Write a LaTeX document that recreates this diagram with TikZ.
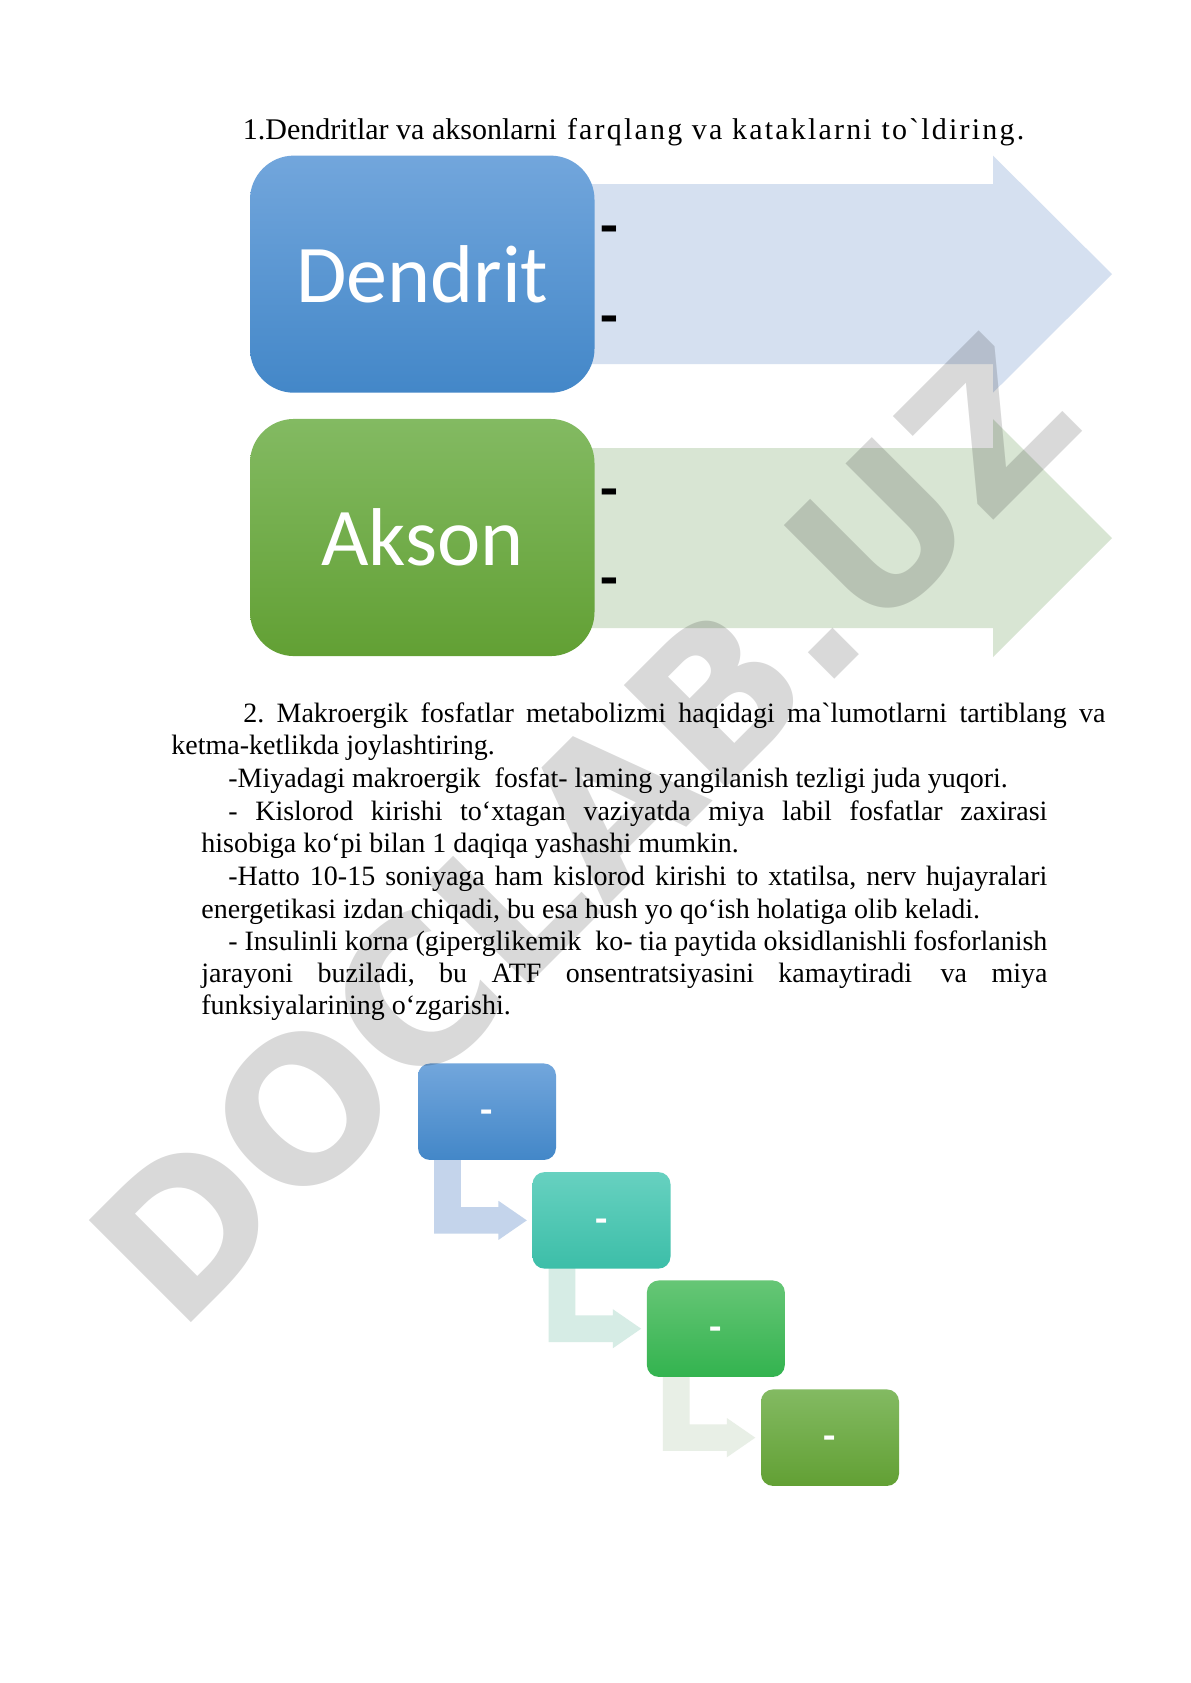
\documentclass[tikz,border=0pt]{standalone}
\usepackage{fontspec}
\setmainfont{Liberation Serif}
\newfontfamily\rawserif{Liberation Serif}[Ligatures=TeXOff]
\newfontfamily\spacedserif{Liberation Serif}[Ligatures=TeXOff,LetterSpace=7.3]
\newfontfamily\calibri{Carlito}
\newfontfamily\wmfont{DejaVu Sans}
\usetikzlibrary{calc}
\pgfdeclarelayer{background}
\pgfdeclarelayer{paper}
\pgfsetlayers{paper,background,main}
\definecolor{arrblue}{HTML}{D5E0F0}
\definecolor{arrgreen}{HTML}{D8E5D3}
\definecolor{dtop}{HTML}{72A6DC}
\definecolor{dbot}{HTML}{4387C8}
\definecolor{atop}{HTML}{83BA62}
\definecolor{abot}{HTML}{62A034}
\definecolor{ttop}{HTML}{67D1C0}
\definecolor{tbot}{HTML}{3CBEA8}
\definecolor{gtop}{HTML}{66C676}
\definecolor{gbot}{HTML}{33B34F}
\definecolor{bentone}{HTML}{C4D4EB}
\definecolor{benttwo}{HTML}{D6ECE5}
\definecolor{bentthree}{HTML}{E8EFE6}
\newcommand\bentarrow[3]{%
  \fill[#1] let \p1=(#2.south west), \p2=(#3.west) in
  (\x1+8.2pt,\y1+2pt) -- (\x1+21.6pt,\y1+2pt) -- (\x1+21.6pt,\y2+6.65pt)
  -- (\x2-16.85pt,\y2+6.65pt) -- (\x2-16.85pt,\y2+9.8pt) -- (\x2-2.65pt,\y2)
  -- (\x2-16.85pt,\y2-9.8pt) -- (\x2-16.85pt,\y2-6.65pt) -- (\x1+8.2pt,\y2-6.65pt) -- cycle;}
\begin{document}
\begin{tikzpicture}[x=0.5pt,y=-0.5pt,
  bigbox/.style={minimum width=172.25pt,minimum height=118.55pt,rounded corners=22pt,
    inner sep=0pt,text=white,font=\calibri\fontsize{41}{41}\selectfont},
  flowbox/.style={minimum width=69pt,minimum height=48.25pt,rounded corners=6pt,
    inner sep=0pt,text=white,text height=12.2pt,text depth=0pt,
    font=\calibri\bfseries\fontsize{20}{20}\selectfont},
  blackdash/.style={inner sep=0pt,text height=14.6pt,text depth=0pt,
    font=\calibri\bfseries\fontsize{29}{29}\selectfont},
  para/.style={anchor=base west,inner sep=0pt,font=\fontsize{14}{16}\selectfont\frenchspacing},
  titletext/.style={anchor=base west,inner sep=0pt,font=\fontsize{15}{17}\selectfont},
  wm/.style={anchor=base west,inner sep=0pt,rotate=45,text=black,text opacity=0.15,
    font=\wmfont\bfseries\fontsize{99}{99}\selectfont}]
\useasboundingbox (0,0) rectangle (1190,1683);
\begin{pgfonlayer}{paper}
\fill[white] (0,0) rectangle (1190,1683);
\end{pgfonlayer}

% title
\node[titletext] (t1) at (242.5,139) {1.Dendritlar va aksonlarni};
\node[titletext] (t2) at (566.6,139) {\spacedserif farqlang va kataklarni to`ldiring.};

% big boxes
\node[bigbox,top color=dtop,bottom color=dbot] (dend) at (422.25,274.15) {Dendrit};
\node[bigbox,top color=atop,bottom color=abot] (akson) at (422.25,537.5) {Akson};
\begin{pgfonlayer}{background}
\fill[arrblue] (420,184) -- (993,184) -- (993,155.6) -- (1112,274.15) -- (993,392.7) -- (993,364) -- (420,364) -- cycle;
\fill[arrgreen] (420,448) -- (993,448) -- (993,419) -- (1112,538) -- (993,657) -- (993,628) -- (420,628) -- cycle;
\end{pgfonlayer}
\node[blackdash] (dd1) at (609.2,231) {-};
\node[blackdash] (dd2) at (609.2,320.4) {-};
\node[blackdash] (dd3) at (609.2,494) {-};
\node[blackdash] (dd4) at (609.2,583) {-};

% paragraph 2
\node[para] (p1) at (243,722) {\makebox[431pt][s]{2. Makroergik fosfatlar metabolizmi haqidagi ma{\rawserif`}lumotlarni tartiblang va}};
\node[para] (p2) at (171,754.6) {ketma-ketlikda joylashtiring.};
\node[para] (p3) at (228,787.5) {-Miyadagi makroergik\ \ fosfat- laming yangilanish tezligi juda yuqori.};
\node[para] (p4) at (228,820) {\makebox[409.5pt][s]{- Kislorod kirishi to‘xtagan vaziyatda miya labil fosfatlar zaxirasi}};
\node[para] (p5) at (201,852.5) {hisobiga ko‘pi bilan 1 daqiqa yashashi mumkin.};
\node[para] (p6) at (228,885.3) {\makebox[409.5pt][s]{-Hatto 10-15 soniyaga ham kislorod kirishi to xtatilsa, nerv hujayralari}};
\node[para] (p7) at (201,918) {energetikasi izdan chiqadi, bu esa hush yo qo‘ish holatiga olib keladi.};
\node[para] (p8) at (228,950.5) {\makebox[409.5pt][s]{- Insulinli korna (giperglikemik\ \ ko- tia paytida oksidlanishli fosforlanish}};
\node[para] (p9) at (201,982.8) {\makebox[423pt][s]{jarayoni buziladi, bu ATF onsentratsiyasini kamaytiradi\hspace{2pt} va miya}};
\node[para] (p10) at (201,1014.8) {funksiyalarining o‘zgarishi.};

% flow boxes
\node[flowbox,top color=dtop,bottom color=dbot] (b1) at (487,1111.7) {-};
\node[flowbox,top color=ttop,bottom color=tbot] (b2) at (601.5,1220.35) {-};
\node[flowbox,top color=gtop,bottom color=gbot] (b3) at (715.85,1328.7) {-};
\node[flowbox,top color=atop,bottom color=abot] (b4) at (830,1437.65) {-};
\begin{pgfonlayer}{background}
\bentarrow{bentone}{b1}{b2}
\bentarrow{benttwo}{b2}{b3}
\bentarrow{bentthree}{b3}{b4}
\end{pgfonlayer}

% watermark
\node[wm] (wmark) at (178,1336) {DOCLAB.UZ};
\end{tikzpicture}
\end{document}
